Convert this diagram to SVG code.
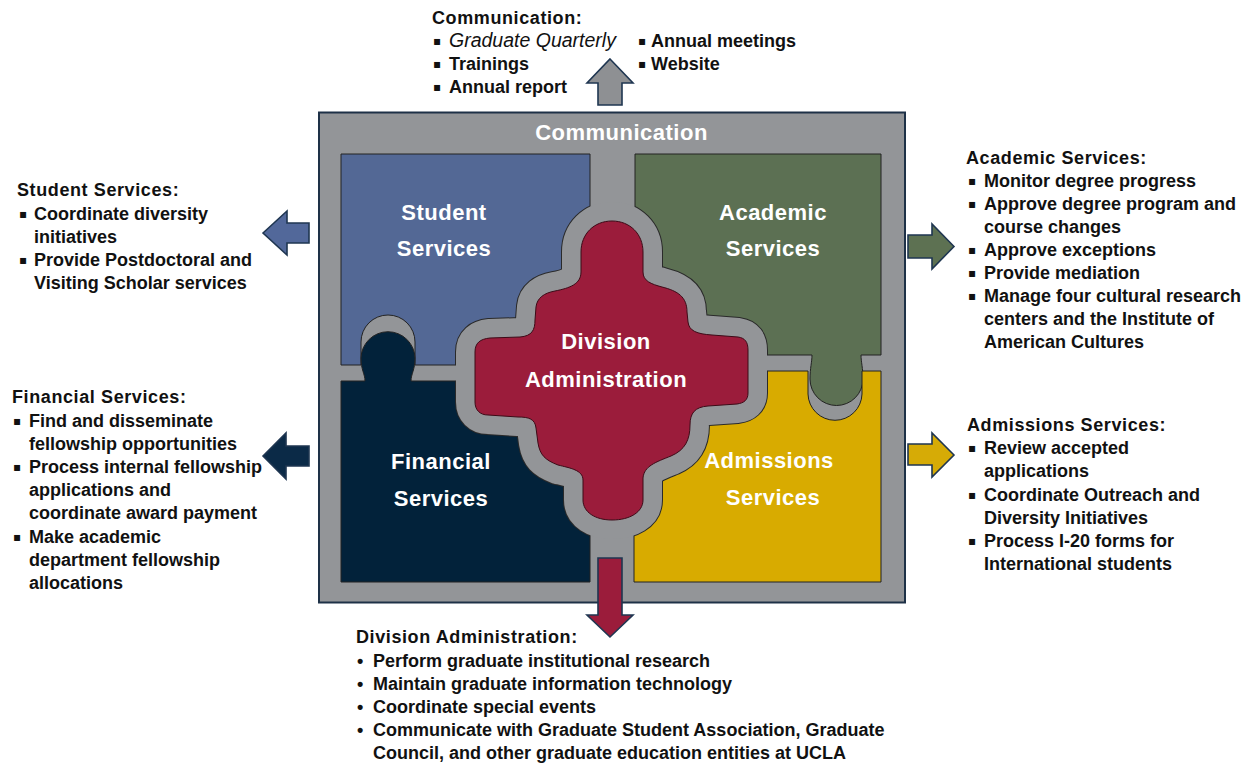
<svg xmlns="http://www.w3.org/2000/svg" width="1250" height="763" viewBox="0 0 1250 763">
<defs>
<style>
.t{font-family:"Liberation Sans",Arial,sans-serif;font-weight:bold;font-size:18px;fill:#111}
.h{letter-spacing:0.6px}
.it{font-style:italic;font-weight:normal;font-size:19.5px}
.b{font-family:"DejaVu Sans",sans-serif;font-size:12px;fill:#111}
.lbl{font-family:"Liberation Sans",Arial,sans-serif;font-weight:bold;font-size:22px;fill:#fff;text-anchor:middle;letter-spacing:0.5px}
.pc{stroke:#232323;stroke-width:1}
.arr{stroke:#1f3651;stroke-width:1.6;stroke-linejoin:miter}
</style>
<path id="cross" d="M 612 221 C 630 221 643 234 643 252 L 643 272 C 643 281 651 284 662 287 C 678 291 687 297 687 312 L 688 322 C 689 331 697 334 712 335 L 738 337 C 745 338 748 342 748 350 L 748 393 C 748 400 744 403 737 404 L 708 406 C 695 407 690 413 690 425 C 690 440 685 450 671 456 C 656 462 644 466 643 478 L 643 500 C 643 512 630 520 612 520 C 595 520 583 512 583 500 L 583 480 C 583 470 570 468 558 465 C 545 460 540 455 538 443 L 536 428 C 535 419 529 417 518 417 L 488 415 C 480 415 475 410 475 402 L 475 352 C 475 343 480 339 490 338 L 520 337 C 532 336 535 330 535 320 L 536 307 C 537 298 544 293 555 291 C 570 288 581 284 581 272 L 581 252 C 581 234 594 221 612 221 Z"/>
<clipPath id="pieces">
<path d="M 341 154 H 590 V 365 H 415 V 342 A 27 27 0 0 0 361 342 V 365 H 341 Z"/>
<path d="M 635 154 H 881 V 355 H 861 C 861 362 863 368 863 379 A 26.5 26.5 0 0 1 810 379 C 810 368 812 362 812 355 H 635 Z"/>
<path d="M 341 381 H 365 C 365 374 361 370 361 358 A 27.01 27.01 0 0 1 415 358 C 415 370 411 374 411 381 H 590 V 582 H 341 Z"/>
<path d="M 634 371 H 808 V 394 A 27.01 27.01 0 0 0 862 394 V 371 H 881 V 582 H 634 Z"/>
</clipPath>
</defs>

<rect x="0" y="0" width="1250" height="763" fill="#ffffff"/>

<g id="frame">
<rect x="319" y="112.5" width="586" height="490" fill="#939598" stroke="#1e3147" stroke-width="2"/>
<text class="lbl" x="621.5" y="140">Communication</text>
</g>

<g id="student-services">
<path class="pc" fill="#536895" d="M 341 154 H 590 V 365 H 415 V 342 A 27 27 0 0 0 361 342 V 365 H 341 Z"/>
<text class="lbl" x="444" y="220">Student</text>
<text class="lbl" x="444" y="256">Services</text>
</g>

<g id="academic-services">
<path class="pc" fill="#5c7053" d="M 635 154 H 881 V 355 H 861 C 861 362 863 368 863 379 A 26.5 26.5 0 0 1 810 379 C 810 368 812 362 812 355 H 635 Z"/>
<text class="lbl" x="773" y="220">Academic</text>
<text class="lbl" x="773" y="256">Services</text>
</g>

<g id="financial-services">
<path class="pc" fill="#02223a" d="M 341 381 H 365 C 365 374 361 370 361 358 A 27.01 27.01 0 0 1 415 358 C 415 370 411 374 411 381 H 590 V 582 H 341 Z"/>
<text class="lbl" x="441" y="469">Financial</text>
<text class="lbl" x="441" y="506">Services</text>
</g>

<g id="admissions-services">
<path class="pc" fill="#d8ab00" d="M 634 371 H 808 V 394 A 27.01 27.01 0 0 0 862 394 V 371 H 881 V 582 H 634 Z"/>
<text class="lbl" x="769" y="468">Admissions</text>
<text class="lbl" x="773" y="504.5">Services</text>
</g>

<g id="division-administration">
<use href="#cross" fill="#2a2a2a" stroke="#2a2a2a" stroke-width="40" stroke-linejoin="round" clip-path="url(#pieces)"/>
<use href="#cross" fill="#939598" stroke="#939598" stroke-width="38" stroke-linejoin="round"/>
<use href="#cross" fill="#9b1c3b" stroke="#3d0a17" stroke-width="1"/>
<text class="lbl" x="606" y="348.5">Division</text>
<text class="lbl" x="606" y="386.5">Administration</text>
</g>

<g id="connectors">
<polygon class="arr" fill="#8e9093" points="610,59 633,83 622,83 622,105 598,105 598,83 587,83"/>
<polygon class="arr" fill="#9b1c3b" points="598,558 622,558 622,615 633,615 610,637 587,615 598,615"/>
<polygon class="arr" fill="#52689a" points="263,233 287,211 287,223 309,223 309,243 287,243 287,255"/>
<polygon class="arr" fill="#0b2a47" points="263,456 286,433 286,446 309,446 309,466 286,466 286,479"/>
<polygon class="arr" fill="#5d7152" points="954,246.5 932,224 932,235 908,235 908,258 932,258 932,269"/>
<polygon class="arr" fill="#d6ab06" points="954,455 932,433 932,444 908,444 908,465 932,465 932,477"/>
</g>

<g id="communication-text">
<text class="t h" x="432" y="24">Communication:</text>
<text class="b" x="433" y="45">▪</text><text class="t it" x="449" y="47">Graduate Quarterly</text>
<text class="b" x="433" y="68">▪</text><text class="t" x="449" y="70">Trainings</text>
<text class="b" x="433" y="91">▪</text><text class="t" x="449" y="93">Annual report</text>
<text class="b" x="638" y="45">▪</text><text class="t" x="651" y="47">Annual meetings</text>
<text class="b" x="638" y="68">▪</text><text class="t" x="651" y="70">Website</text>
</g>

<g id="student-text">
<text class="t h" x="17" y="196">Student Services:</text>
<text class="b" x="19" y="218">▪</text><text class="t" x="34" y="220">Coordinate diversity</text>
<text class="t" x="34" y="243">initiatives</text>
<text class="b" x="19" y="264">▪</text><text class="t" x="34" y="266">Provide Postdoctoral and</text>
<text class="t" x="34" y="289">Visiting Scholar services</text>
</g>

<g id="financial-text">
<text class="t h" x="12" y="403">Financial Services:</text>
<text class="b" x="13" y="425">▪</text><text class="t" x="29" y="427">Find and disseminate</text>
<text class="t" x="29" y="450">fellowship opportunities</text>
<text class="b" x="13" y="471">▪</text><text class="t" x="29" y="473">Process internal fellowship</text>
<text class="t" x="29" y="496">applications and</text>
<text class="t" x="29" y="519">coordinate award payment</text>
<text class="b" x="13" y="541">▪</text><text class="t" x="29" y="543">Make academic</text>
<text class="t" x="29" y="566">department fellowship</text>
<text class="t" x="29" y="589">allocations</text>
</g>

<g id="academic-text">
<text class="t h" x="966" y="164">Academic Services:</text>
<text class="b" x="968" y="185">▪</text><text class="t" x="984" y="187">Monitor degree progress</text>
<text class="b" x="968" y="208">▪</text><text class="t" x="984" y="210">Approve degree program and</text>
<text class="t" x="984" y="233">course changes</text>
<text class="b" x="968" y="254">▪</text><text class="t" x="984" y="256">Approve exceptions</text>
<text class="b" x="968" y="277">▪</text><text class="t" x="984" y="279">Provide mediation</text>
<text class="b" x="968" y="300">▪</text><text class="t" x="984" y="302">Manage four cultural research</text>
<text class="t" x="984" y="325">centers and the Institute of</text>
<text class="t" x="984" y="348">American Cultures</text>
</g>

<g id="admissions-text">
<text class="t h" x="967" y="431">Admissions Services:</text>
<text class="b" x="968" y="452">▪</text><text class="t" x="984" y="454">Review accepted</text>
<text class="t" x="984" y="477">applications</text>
<text class="b" x="968" y="499">▪</text><text class="t" x="984" y="501">Coordinate Outreach and</text>
<text class="t" x="984" y="524">Diversity Initiatives</text>
<text class="b" x="968" y="545">▪</text><text class="t" x="984" y="547">Process I-20 forms for</text>
<text class="t" x="984" y="570">International students</text>
</g>

<g id="division-text">
<text class="t h" x="356" y="643">Division Administration:</text>
<text class="t" x="357" y="667">•</text><text class="t" x="373" y="667">Perform graduate institutional research</text>
<text class="t" x="357" y="690">•</text><text class="t" x="373" y="690">Maintain graduate information technology</text>
<text class="t" x="357" y="713">•</text><text class="t" x="373" y="713">Coordinate special events</text>
<text class="t" x="357" y="736">•</text><text class="t" x="373" y="736">Communicate with Graduate Student Association, Graduate</text>
<text class="t" x="373" y="759">Council, and other graduate education entities at UCLA</text>
</g>
</svg>
